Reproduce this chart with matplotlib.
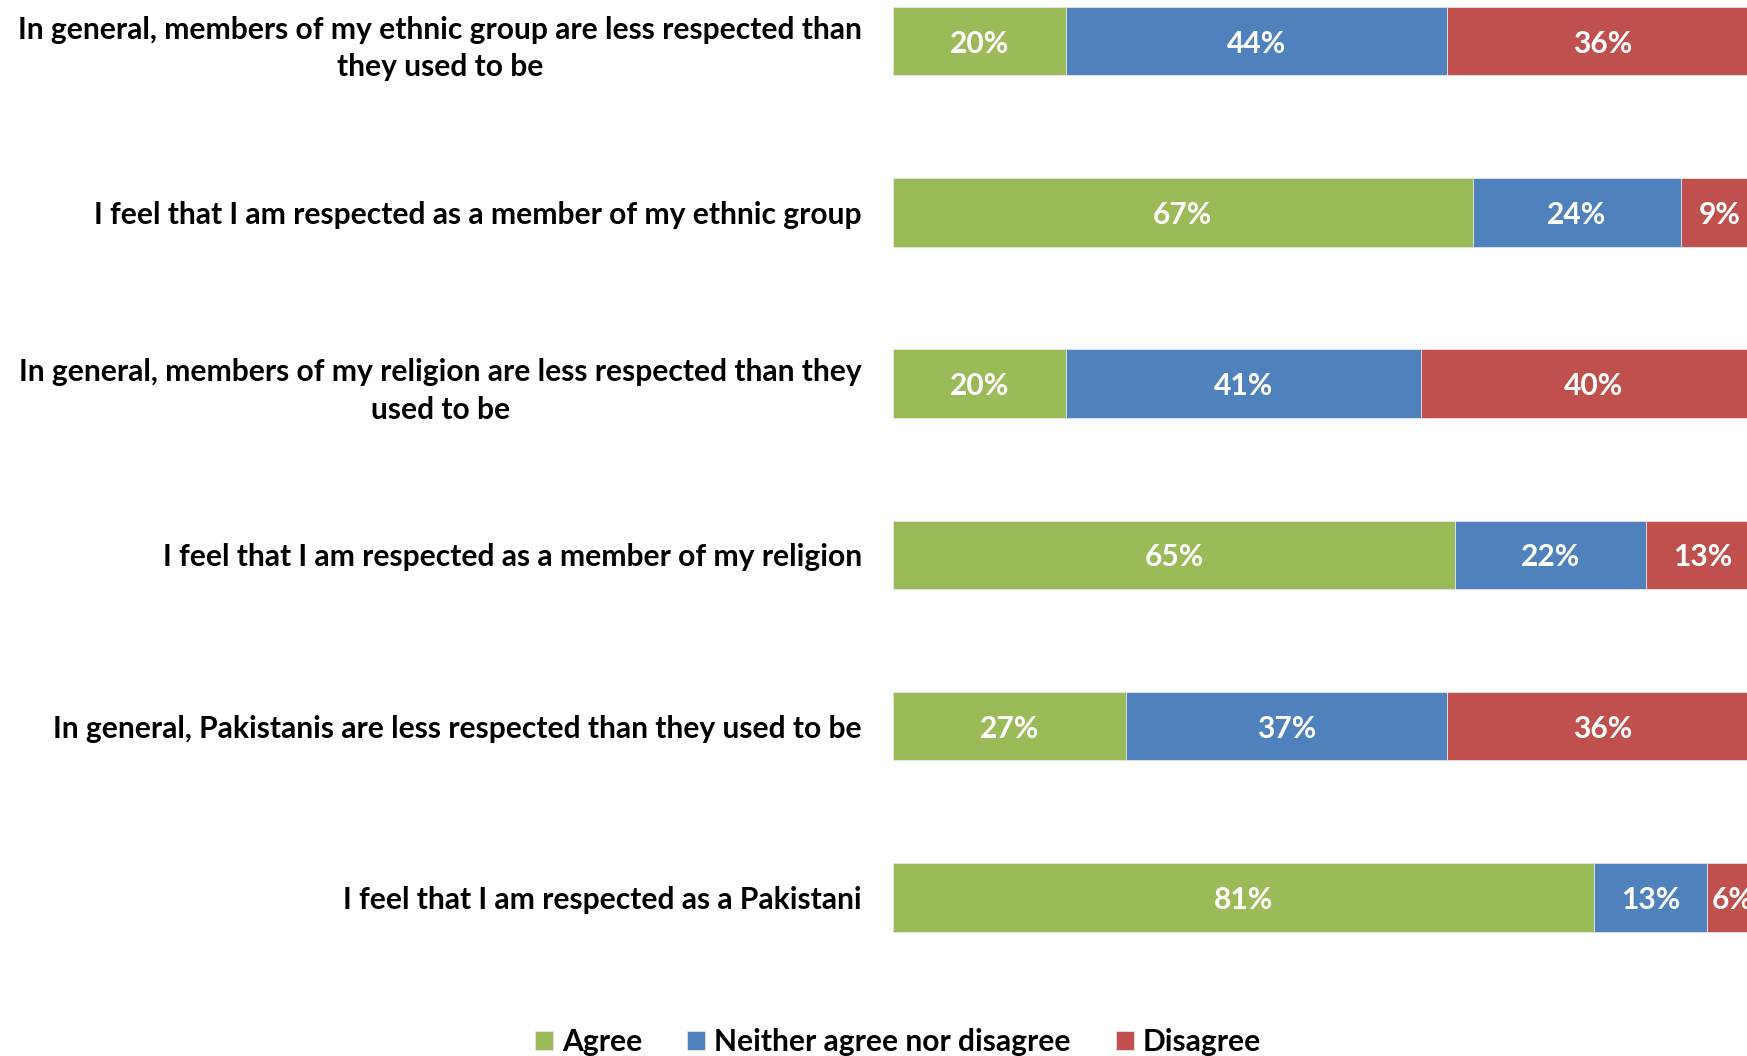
import matplotlib
matplotlib.use("Agg")
import matplotlib.pyplot as plt
import numpy as np

plt.rcParams['font.family'] = ['Lato', 'DejaVu Sans']
plt.rcParams['font.weight'] = 'bold'

categories = [
    "In general, members of my ethnic group are less respected than\nthey used to be",
    "I feel that I am respected as a member of my ethnic group",
    "In general, members of my religion are less respected than they\nused to be",
    "I feel that I am respected as a member of my religion",
    "In general, Pakistanis are less respected than they used to be",
    "I feel that I am respected as a Pakistani",
]
series_names = ["Agree", "Neither agree nor disagree", "Disagree"]
agree = [20, 67, 20, 65, 27, 81]
neither = [44, 24, 41, 22, 37, 13]
disagree = [36, 9, 40, 13, 36, 6]
colors = ["#9BBB59", "#4F81BD", "#C0504D"]

FS = 21.6
W, H = 1747, 1056
fig = plt.figure(figsize=(W / 100, H / 100), dpi=100)
left_px, right_px = 892.5, 892.5 + 866
bottom_px, top_px = 983, -44.6
ax = fig.add_axes([left_px / W, 1 - bottom_px / H, (right_px - left_px) / W, (bottom_px - top_px) / H])

y = np.arange(len(categories))
lefts = np.zeros(len(categories))
for vals, name, col in zip([agree, neither, disagree], series_names, colors):
    vals = np.array(vals, dtype=float)
    ax.barh(y, vals, left=lefts, height=0.4, color=col, label=name,
            edgecolor='#E6E6E6', linewidth=0.6)
    for yi, l, v in zip(y, lefts, vals):
        ax.text(l + v / 2, yi, f"{int(v)}%", ha='center', va='center_baseline',
                color='white', fontsize=FS, fontweight='bold')
    lefts += vals

ax.set_xlim(0, 100)
ax.set_ylim(len(categories) - 0.5, -0.5)
ax.set_yticks(y)
ax.set_yticklabels(categories, fontsize=FS, fontweight='bold', multialignment='center',
                   linespacing=1.42)
ax.tick_params(axis='y', length=0, pad=22)
ax.set_xticks([])
for s in ax.spines.values():
    s.set_visible(False)

fig.legend(loc='center', bbox_to_anchor=(0.514, 1 - 1042 / H), ncol=3, frameon=False,
           handlelength=0.6, handleheight=0.6, handletextpad=0.3,
           columnspacing=1.5, prop={'weight': 'bold', 'size': FS})

fig.savefig("out.png", dpi=100)
